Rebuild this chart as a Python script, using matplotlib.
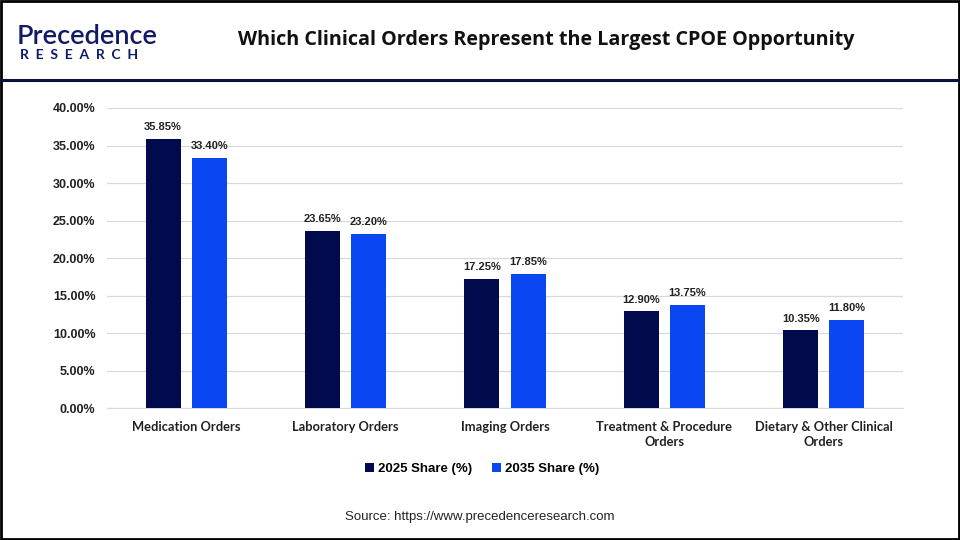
import matplotlib.pyplot as plt
import numpy as np
from matplotlib.lines import Line2D
from matplotlib.patches import Rectangle

# ---- data ----
categories = ['Medication Orders', 'Laboratory Orders', 'Imaging Orders',
              'Treatment & Procedure\nOrders', 'Dietary & Other Clinical\nOrders']
share_2025 = [35.85, 23.65, 17.25, 12.90, 10.35]
share_2035 = [33.40, 23.20, 17.85, 13.75, 11.80]
series_names = ['2025 Share (%)', '2035 Share (%)']
yticks = [0, 5, 10, 15, 20, 25, 30, 35, 40]

DARK = '#020a4e'
BLUE = '#0a47f2'

plt.rcParams['font.family'] = ['Liberation Sans', 'DejaVu Sans']

fig = plt.figure(figsize=(9.6, 5.4), dpi=100)
ax = fig.add_axes([0.111, 0.2444, 0.830, 0.5556])

x = np.arange(len(categories))
w = 0.22
off = 0.145
b1 = ax.bar(x - off, share_2025, w, color=DARK, label=series_names[0], zorder=3)
b2 = ax.bar(x + off, share_2035, w, color=BLUE, label=series_names[1], zorder=3)

for bars, vals in ((b1, share_2025), (b2, share_2035)):
    for r, v in zip(bars, vals):
        ax.text(r.get_x() + r.get_width() / 2, v + 0.9, f'{v:.2f}%',
                ha='center', va='bottom', fontsize=8, fontweight='bold', color='#222222')

ax.set_xlim(-0.5, len(categories) - 0.5)
ax.set_ylim(0, 40)
ax.set_yticks(yticks)
ax.set_yticklabels([f'{t:.2f}%' for t in yticks], fontsize=9, fontweight='bold', color='#222222')
ax.set_xticks(x)
ax.set_xticklabels(categories, fontsize=9.3, fontweight='bold', color='#222222',
                   family=['Lato', 'DejaVu Sans'], linespacing=1.35)
ax.tick_params(axis='both', length=0)
ax.tick_params(axis='y', pad=8)
ax.tick_params(axis='x', pad=9)
ax.grid(axis='y', color='#d9d9d9', linewidth=0.9, zorder=0)
for s in ['top', 'right', 'left']:
    ax.spines[s].set_visible(False)
ax.spines['bottom'].set_color('#d9d9d9')

leg = fig.legend(handles=[b1, b2], loc='center', bbox_to_anchor=(0.502, 0.131), ncol=2,
                 frameon=False, handlelength=0.7, handleheight=0.7, handletextpad=0.3,
                 columnspacing=1.5, prop={'family': ['Liberation Sans', 'DejaVu Sans'],
                                          'weight': 'bold', 'size': 9.5})

# header
fig.text(0.569, 0.926, 'Which Clinical Orders Represent the Largest CPOE Opportunity',
         ha='center', va='center', fontsize=14.2, fontweight='bold',
         family=['Open Sans', 'DejaVu Sans'], color='#111111')
fig.text(0.017, 0.932, 'Precedence', ha='left', va='center', fontsize=19.5,
         fontweight='semibold', family=['Lato', 'DejaVu Sans'], color='#111a66')
fig.text(0.021, 0.899, 'R  E  S  E  A  R  C  H', ha='left', va='center', fontsize=10,
         fontweight='bold', family=['Lato', 'DejaVu Sans'], color='#0d1a6a')
fig.add_artist(Line2D([0, 1], [0.852, 0.852], color='#0b1040', linewidth=2.2,
                      transform=fig.transFigure))
fig.text(0.5, 0.042, 'Source: https://www.precedenceresearch.com', ha='center', va='center',
         fontsize=9.5, color='#222222')
fig.add_artist(Rectangle((0.001, 0.002), 0.998, 0.996, fill=False, edgecolor='black',
                         linewidth=2, transform=fig.transFigure))

fig.savefig('out.png', dpi=100)
